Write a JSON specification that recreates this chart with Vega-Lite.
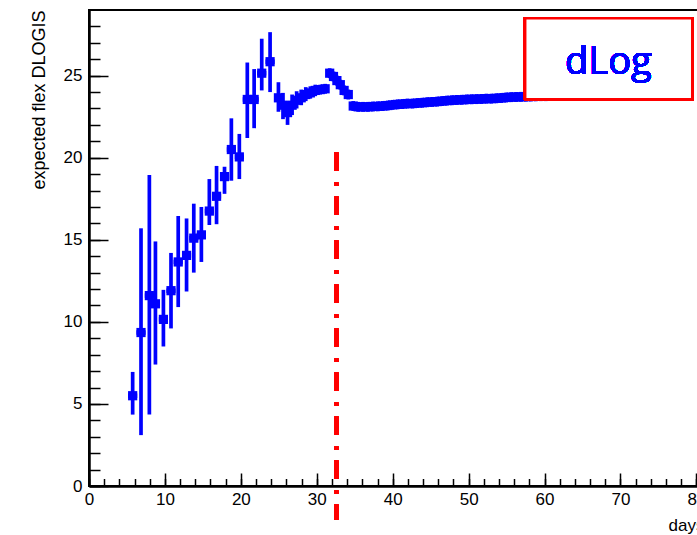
{
  "$schema": "https://vega.github.io/schema/vega-lite/v6.json",
  "width": 615,
  "height": 476,
  "autosize": {"type": "none"},
  "padding": {"left": 89, "top": 10, "right": -7, "bottom": 49},
  "background": "white",
  "config": {
    "view": {"stroke": "black", "strokeWidth": 2},
    "font": "Liberation Sans",
    "axis": {"labelFont": "Liberation Sans", "titleFont": "Liberation Sans", "grid": false, "tickColor": "black", "domainColor": "black", "labelColor": "black", "titleColor": "black"}
  },
  "data": {
    "values": [
      {"d": 5.75, "v": 5.5, "ylo": 4.35, "yhi": 6.95, "xlo": 5.15, "xhi": 6.35},
      {"d": 6.85, "v": 9.35, "ylo": 3.1, "yhi": 15.7, "xlo": 6.25, "xhi": 7.45},
      {"d": 7.95, "v": 11.6, "ylo": 4.35, "yhi": 18.95, "xlo": 7.35, "xhi": 8.55},
      {"d": 8.75, "v": 11.1, "ylo": 7.4, "yhi": 14.9, "xlo": 8.15, "xhi": 9.35},
      {"d": 9.8, "v": 10.15, "ylo": 8.5, "yhi": 11.95, "xlo": 9.2, "xhi": 10.4},
      {"d": 10.8, "v": 11.9, "ylo": 9.6, "yhi": 14.2, "xlo": 10.2, "xhi": 11.4},
      {"d": 11.75, "v": 13.65, "ylo": 10.9, "yhi": 16.45, "xlo": 11.15, "xhi": 12.35},
      {"d": 12.85, "v": 14.05, "ylo": 11.85, "yhi": 16.3, "xlo": 12.25, "xhi": 13.45},
      {"d": 13.8, "v": 15.1, "ylo": 13.0, "yhi": 17.2, "xlo": 13.2, "xhi": 14.4},
      {"d": 14.8, "v": 15.3, "ylo": 13.65, "yhi": 17.0, "xlo": 14.2, "xhi": 15.4},
      {"d": 15.85, "v": 16.75, "ylo": 15.9, "yhi": 18.7, "xlo": 15.25, "xhi": 16.45},
      {"d": 16.8, "v": 17.65, "ylo": 15.95, "yhi": 19.5, "xlo": 16.2, "xhi": 17.4},
      {"d": 17.85, "v": 18.85, "ylo": 17.8, "yhi": 19.45, "xlo": 17.25, "xhi": 18.45},
      {"d": 18.75, "v": 20.5, "ylo": 18.6, "yhi": 22.4, "xlo": 18.15, "xhi": 19.35},
      {"d": 19.8, "v": 20.05, "ylo": 18.7, "yhi": 21.45, "xlo": 19.2, "xhi": 20.4},
      {"d": 20.85, "v": 23.55, "ylo": 21.2, "yhi": 25.8, "xlo": 20.25, "xhi": 21.45},
      {"d": 21.75, "v": 23.55, "ylo": 21.8, "yhi": 25.4, "xlo": 21.15, "xhi": 22.35},
      {"d": 22.75, "v": 25.15, "ylo": 24.1, "yhi": 27.25, "xlo": 22.15, "xhi": 23.35},
      {"d": 23.85, "v": 25.85, "ylo": 24.0, "yhi": 27.65, "xlo": 23.25, "xhi": 24.45},
      {"d": 24.95, "v": 23.65, "ylo": 22.8, "yhi": 24.6, "xlo": 24.55, "xhi": 25.35},
      {"d": 25.55, "v": 23.2, "ylo": 22.35, "yhi": 23.95, "xlo": 25.2, "xhi": 25.9},
      {"d": 26.15, "v": 22.75, "ylo": 22.0, "yhi": 23.45, "xlo": 25.8, "xhi": 26.5},
      {"d": 26.75, "v": 23.2, "ylo": 22.6, "yhi": 23.85, "xlo": 26.4, "xhi": 27.1},
      {"d": 27.35, "v": 23.5, "ylo": 23.0, "yhi": 24.05, "xlo": 27.0, "xhi": 27.7},
      {"d": 27.95, "v": 23.65, "ylo": 23.2, "yhi": 24.15, "xlo": 27.6, "xhi": 28.3},
      {"d": 28.55, "v": 23.85, "ylo": 23.45, "yhi": 24.3, "xlo": 28.2, "xhi": 28.9},
      {"d": 29.15, "v": 23.95, "ylo": 23.6, "yhi": 24.35, "xlo": 28.8, "xhi": 29.5},
      {"d": 29.8, "v": 24.1, "ylo": 23.75, "yhi": 24.45, "xlo": 29.45, "xhi": 30.15},
      {"d": 30.45, "v": 24.15, "ylo": 23.85, "yhi": 24.45, "xlo": 30.1, "xhi": 30.8},
      {"d": 31.1, "v": 24.2, "ylo": 23.9, "yhi": 24.5, "xlo": 30.75, "xhi": 31.45},
      {"d": 31.7, "v": 25.15, "ylo": 24.85, "yhi": 25.45, "xlo": 31.4, "xhi": 32.0},
      {"d": 32.2, "v": 24.95, "ylo": 24.65, "yhi": 25.25, "xlo": 31.9, "xhi": 32.5},
      {"d": 32.65, "v": 24.7, "ylo": 24.4, "yhi": 25.0, "xlo": 32.35, "xhi": 32.95},
      {"d": 33.1, "v": 24.45, "ylo": 24.15, "yhi": 24.75, "xlo": 32.8, "xhi": 33.4},
      {"d": 33.6, "v": 24.1, "ylo": 23.8, "yhi": 24.4, "xlo": 33.3, "xhi": 33.9},
      {"d": 34.15, "v": 23.85, "ylo": 23.55, "yhi": 24.15, "xlo": 33.85, "xhi": 34.45},
      {"d": 34.8, "v": 23.15, "ylo": 22.85, "yhi": 23.45, "xlo": 34.5, "xhi": 35.1},
      {"d": 35.45, "v": 23.1, "ylo": 22.8, "yhi": 23.4, "xlo": 35.15, "xhi": 35.75},
      {"d": 36.1, "v": 23.1, "ylo": 22.8, "yhi": 23.4, "xlo": 35.8, "xhi": 36.4},
      {"d": 36.75, "v": 23.1, "ylo": 22.8, "yhi": 23.4, "xlo": 36.45, "xhi": 37.05},
      {"d": 37.4, "v": 23.12, "ylo": 22.82, "yhi": 23.42, "xlo": 37.1, "xhi": 37.7},
      {"d": 38.05, "v": 23.13, "ylo": 22.83, "yhi": 23.43, "xlo": 37.75, "xhi": 38.35},
      {"d": 38.7, "v": 23.15, "ylo": 22.85, "yhi": 23.45, "xlo": 38.4, "xhi": 39.0},
      {"d": 39.35, "v": 23.18, "ylo": 22.88, "yhi": 23.48, "xlo": 39.05, "xhi": 39.65},
      {"d": 40.0, "v": 23.22, "ylo": 22.92, "yhi": 23.52, "xlo": 39.7, "xhi": 40.3},
      {"d": 40.65, "v": 23.25, "ylo": 22.95, "yhi": 23.55, "xlo": 40.35, "xhi": 40.95},
      {"d": 41.3, "v": 23.27, "ylo": 22.97, "yhi": 23.57, "xlo": 41.0, "xhi": 41.6},
      {"d": 41.95, "v": 23.3, "ylo": 23.0, "yhi": 23.6, "xlo": 41.65, "xhi": 42.25},
      {"d": 42.6, "v": 23.3, "ylo": 23.0, "yhi": 23.6, "xlo": 42.3, "xhi": 42.9},
      {"d": 43.25, "v": 23.33, "ylo": 23.03, "yhi": 23.63, "xlo": 42.95, "xhi": 43.55},
      {"d": 43.9, "v": 23.35, "ylo": 23.05, "yhi": 23.65, "xlo": 43.6, "xhi": 44.2},
      {"d": 44.55, "v": 23.38, "ylo": 23.08, "yhi": 23.68, "xlo": 44.25, "xhi": 44.85},
      {"d": 45.2, "v": 23.4, "ylo": 23.1, "yhi": 23.7, "xlo": 44.9, "xhi": 45.5},
      {"d": 45.85, "v": 23.42, "ylo": 23.12, "yhi": 23.72, "xlo": 45.55, "xhi": 46.15},
      {"d": 46.5, "v": 23.45, "ylo": 23.15, "yhi": 23.75, "xlo": 46.2, "xhi": 46.8},
      {"d": 47.15, "v": 23.48, "ylo": 23.18, "yhi": 23.78, "xlo": 46.85, "xhi": 47.45},
      {"d": 47.8, "v": 23.5, "ylo": 23.2, "yhi": 23.8, "xlo": 47.5, "xhi": 48.1},
      {"d": 48.45, "v": 23.52, "ylo": 23.22, "yhi": 23.82, "xlo": 48.15, "xhi": 48.75},
      {"d": 49.1, "v": 23.53, "ylo": 23.23, "yhi": 23.83, "xlo": 48.8, "xhi": 49.4},
      {"d": 49.75, "v": 23.55, "ylo": 23.25, "yhi": 23.85, "xlo": 49.45, "xhi": 50.05},
      {"d": 50.4, "v": 23.56, "ylo": 23.26, "yhi": 23.86, "xlo": 50.1, "xhi": 50.7},
      {"d": 51.05, "v": 23.57, "ylo": 23.27, "yhi": 23.87, "xlo": 50.75, "xhi": 51.35},
      {"d": 51.7, "v": 23.58, "ylo": 23.28, "yhi": 23.88, "xlo": 51.4, "xhi": 52.0},
      {"d": 52.35, "v": 23.6, "ylo": 23.3, "yhi": 23.9, "xlo": 52.05, "xhi": 52.65},
      {"d": 53.0, "v": 23.6, "ylo": 23.3, "yhi": 23.9, "xlo": 52.7, "xhi": 53.3},
      {"d": 53.65, "v": 23.62, "ylo": 23.32, "yhi": 23.92, "xlo": 53.35, "xhi": 53.95},
      {"d": 54.3, "v": 23.64, "ylo": 23.34, "yhi": 23.94, "xlo": 54.0, "xhi": 54.6},
      {"d": 54.95, "v": 23.67, "ylo": 23.37, "yhi": 23.97, "xlo": 54.65, "xhi": 55.25},
      {"d": 55.6, "v": 23.69, "ylo": 23.39, "yhi": 23.99, "xlo": 55.3, "xhi": 55.9},
      {"d": 56.25, "v": 23.7, "ylo": 23.4, "yhi": 24.0, "xlo": 55.95, "xhi": 56.55},
      {"d": 56.9, "v": 23.71, "ylo": 23.41, "yhi": 24.01, "xlo": 56.6, "xhi": 57.2},
      {"d": 57.55, "v": 23.72, "ylo": 23.42, "yhi": 24.02, "xlo": 57.25, "xhi": 57.85},
      {"d": 58.2, "v": 23.73, "ylo": 23.43, "yhi": 24.03, "xlo": 57.9, "xhi": 58.5},
      {"d": 58.85, "v": 23.74, "ylo": 23.44, "yhi": 24.04, "xlo": 58.55, "xhi": 59.15},
      {"d": 59.5, "v": 23.75, "ylo": 23.45, "yhi": 24.05, "xlo": 59.2, "xhi": 59.8},
      {"d": 60.15, "v": 23.75, "ylo": 23.45, "yhi": 24.05, "xlo": 59.85, "xhi": 60.45}
    ]
  },
  "layer": [
    {
      "mark": {"type": "point", "opacity": 0},
      "encoding": {
        "x": {"field": "d", "type": "quantitative", "scale": {"domain": [0, 81], "nice": false, "zero": false},
          "axis": {"orient": "bottom", "offset": -7.5, "values": [0,2,4,6,8,10,12,14,16,18,20,22,24,26,28,30,32,34,36,38,40,42,44,46,48,50,52,54,56,58,60,62,64,66,68,70,72,74,76,78,80], "tickSize": 7.5, "tickWidth": 1.5, "labels": false, "domain": false, "title": null}},
        "y": {"field": "v", "type": "quantitative", "scale": {"domain": [0, 29], "nice": false, "zero": false},
          "axis": {"orient": "left", "offset": -11, "values": [0,1,2,3,4,5,6,7,8,9,10,11,12,13,14,15,16,17,18,19,20,21,22,23,24,25,26,27,28], "tickSize": 11, "tickWidth": 1.5, "labels": false, "domain": false, "title": null}}
      }
    },
    {
      "mark": {"type": "point", "opacity": 0},
      "encoding": {
        "x": {"field": "d", "type": "quantitative",
          "axis": {"orient": "bottom", "offset": -13, "values": [0,10,20,30,40,50,60,70,80], "tickSize": 13, "tickWidth": 1.5, "labels": false, "domain": false, "title": null}},
        "y": {"field": "v", "type": "quantitative",
          "axis": {"orient": "left", "offset": -19, "values": [0,5,10,15,20,25], "tickSize": 19, "tickWidth": 1.5, "labels": false, "domain": false, "title": null}}
      }
    },
    {
      "mark": {"type": "rule", "color": "#0000ff", "strokeWidth": 3.7},
      "encoding": {
        "x": {"field": "d", "type": "quantitative",
          "axis": {"orient": "bottom", "values": [0,10,20,30,40,50,60,70,80], "ticks": false, "tickSize": 0, "domainWidth": 2.5, "labelFontSize": 17, "labelPadding": 5, "labelFlush": false, "title": "days", "titleAnchor": "end", "titleFontSize": 17, "titleFontWeight": "normal", "titlePadding": 10}},
        "y": {"field": "ylo", "type": "quantitative",
          "axis": {"orient": "left", "values": [0,5,10,15,20,25], "ticks": false, "tickSize": 0, "domainWidth": 2.5, "labelFontSize": 17, "labelPadding": 7, "title": "expected flex DLOGIS", "titleAnchor": "end", "titleFontSize": 18, "titleFontWeight": "normal", "titlePadding": 15}},
        "y2": {"field": "yhi"}
      }
    },
    {
      "mark": {"type": "rule", "color": "#0000ff", "strokeWidth": 4.5},
      "encoding": {
        "x": {"field": "xlo", "type": "quantitative", "axis": null},
        "x2": {"field": "xhi"},
        "y": {"field": "v", "type": "quantitative", "axis": null}
      }
    },
    {
      "mark": {"type": "square", "filled": true, "color": "#0000ff", "opacity": 1, "size": 85},
      "encoding": {
        "x": {"field": "d", "type": "quantitative", "axis": null},
        "y": {"field": "v", "type": "quantitative", "axis": null}
      }
    },
    {
      "mark": {"type": "rule", "color": "#ff0000", "strokeWidth": 4, "strokeDash": [18, 12, 3, 11]},
      "encoding": {
        "x": {"datum": 32.55, "type": "quantitative", "axis": null},
        "y": {"datum": 20.3, "type": "quantitative", "axis": null},
        "y2": {"datum": -2.05}
      }
    },
    {
      "mark": {"type": "rect", "fill": "white", "stroke": "#ff0000", "strokeWidth": 2.5},
      "encoding": {
        "x": {"datum": 57.45, "type": "quantitative", "axis": null},
        "x2": {"datum": 79.45},
        "y": {"datum": 28.5, "type": "quantitative", "axis": null},
        "y2": {"datum": 23.57}
      }
    },
    {
      "mark": {"type": "text", "text": "dLog", "font": "Open Sans", "fontWeight": 400, "fontSize": 38, "color": "#0000ff", "align": "center", "baseline": "middle"},
      "encoding": {
        "x": {"datum": 68.4, "type": "quantitative", "axis": null},
        "y": {"datum": 25.75, "type": "quantitative", "axis": null}
      }
    }
  ],
  "resolve": {"axis": {"x": "independent", "y": "independent"}}
}
